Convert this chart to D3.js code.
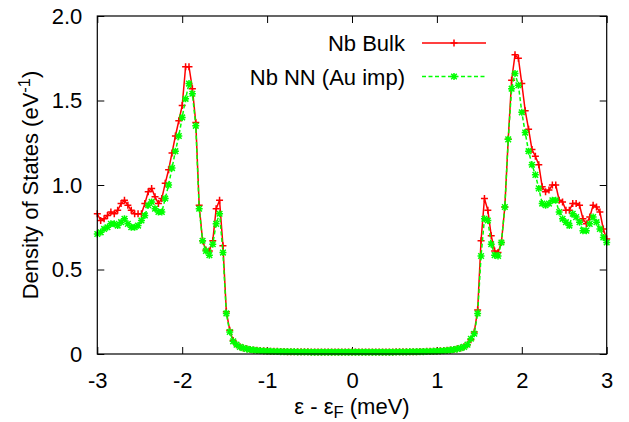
<!DOCTYPE html>
<html>
<head>
<meta charset="utf-8">
<script src="https://cdn.jsdelivr.net/npm/d3@7"></script>
<style>
  html, body { margin: 0; padding: 0; background: #fff; }
  svg { display: block; font-family: "Liberation Sans", Arial, sans-serif; }
</style>
</head>
<body>
<svg id="chart" width="629" height="422"></svg>
<script>
// ---- data ----
const energies = [
-3.00,-2.96,-2.92,-2.88,-2.84,-2.80,-2.76,-2.72,-2.68,-2.64,
-2.60,-2.56,-2.52,-2.48,-2.44,-2.40,-2.36,-2.32,-2.28,-2.24,
-2.20,-2.16,-2.12,-2.08,-2.04,-2.00,-1.96,-1.92,-1.88,-1.84,
-1.80,-1.76,-1.72,-1.68,-1.64,-1.60,-1.56,-1.52,-1.48,-1.44,
-1.40,-1.36,-1.32,-1.28,-1.24,-1.20,-1.16,-1.12,-1.08,-1.04,
-1.00,-0.96,-0.92,-0.88,-0.84,-0.80,-0.76,-0.72,-0.68,-0.64,
-0.60,-0.56,-0.52,-0.48,-0.44,-0.40,-0.36,-0.32,-0.28,-0.24,
-0.20,-0.16,-0.12,-0.08,-0.04,0.00,0.04,0.08,0.12,0.16,
0.20,0.24,0.28,0.32,0.36,0.40,0.44,0.48,0.52,0.56,
0.60,0.64,0.68,0.72,0.76,0.80,0.84,0.88,0.92,0.96,
1.00,1.04,1.08,1.12,1.16,1.20,1.24,1.28,1.32,1.36,
1.40,1.44,1.48,1.52,1.56,1.60,1.64,1.68,1.72,1.76,
1.80,1.84,1.88,1.92,1.96,2.00,2.04,2.08,2.12,2.16,
2.20,2.24,2.28,2.32,2.36,2.40,2.44,2.48,2.52,2.56,
2.60,2.64,2.68,2.72,2.76,2.80,2.84,2.88,2.92,2.96,
3.00];

const bulkDOS = [
0.83,0.79,0.80,0.82,0.84,0.83,0.85,0.89,0.91,0.88,
0.85,0.83,0.83,0.83,0.89,0.96,0.98,0.93,0.89,0.92,
1.01,1.09,1.19,1.29,1.38,1.47,1.70,1.70,1.57,1.37,
0.88,0.67,0.615,0.61,0.67,0.86,0.91,0.64,0.25,0.14,
0.08,0.055,0.043,0.036,0.031,0.027,0.024,0.022,0.020,0.019,
0.018,0.017,0.016,0.016,0.015,0.015,0.014,0.014,0.014,0.013,
0.013,0.013,0.013,0.012,0.012,0.012,0.012,0.012,0.012,0.012,
0.012,0.012,0.012,0.012,0.012,0.012,0.012,0.012,0.012,0.012,
0.012,0.012,0.012,0.012,0.012,0.012,0.012,0.012,0.013,0.013,
0.013,0.013,0.014,0.014,0.014,0.015,0.015,0.016,0.016,0.017,
0.018,0.019,0.020,0.022,0.024,0.027,0.031,0.036,0.043,0.055,
0.085,0.13,0.26,0.67,0.92,0.85,0.70,0.61,0.60,0.66,
0.87,1.27,1.62,1.77,1.75,1.60,1.44,1.33,1.21,1.17,
1.12,0.99,0.96,0.97,1.00,1.00,0.91,0.90,0.85,0.85,
0.89,0.89,0.88,0.80,0.77,0.81,0.88,0.87,0.84,0.74,
0.68];

const nnDOS = [
0.71,0.72,0.74,0.75,0.77,0.77,0.76,0.78,0.80,0.77,
0.75,0.75,0.76,0.79,0.82,0.88,0.90,0.86,0.84,0.84,
0.92,1.00,1.10,1.20,1.29,1.40,1.51,1.60,1.54,1.35,
0.86,0.67,0.61,0.585,0.65,0.77,0.83,0.60,0.24,0.13,
0.075,0.055,0.042,0.035,0.030,0.026,0.023,0.021,0.019,0.018,
0.017,0.016,0.015,0.015,0.014,0.014,0.013,0.013,0.013,0.012,
0.012,0.012,0.012,0.011,0.011,0.011,0.011,0.011,0.011,0.011,
0.011,0.011,0.011,0.011,0.011,0.011,0.011,0.011,0.011,0.011,
0.011,0.011,0.011,0.011,0.011,0.011,0.011,0.011,0.012,0.012,
0.012,0.012,0.013,0.013,0.013,0.014,0.014,0.015,0.015,0.016,
0.017,0.018,0.019,0.021,0.023,0.026,0.030,0.035,0.042,0.055,
0.09,0.12,0.24,0.58,0.80,0.79,0.65,0.585,0.58,0.66,
0.87,1.27,1.57,1.66,1.59,1.43,1.31,1.20,1.12,1.06,
0.98,0.89,0.88,0.89,0.91,0.91,0.84,0.80,0.78,0.76,
0.83,0.81,0.78,0.73,0.73,0.77,0.81,0.78,0.74,0.69,
0.66];

const seriesNames = ["Nb Bulk", "Nb NN (Au imp)"];
const xTicks = [-3, -2, -1, 0, 1, 2, 3];
const xTickLabels = ["-3", "-2", "-1", "0", "1", "2", "3"];
const yTicks = [0, 0.5, 1.0, 1.5, 2.0];
const yTickLabels = ["0", "0.5", "1.0", "1.5", "2.0"];

(function () {
const svg = d3.select("#chart");
const pL = 97.3, pR = 606.7, pT = 16, pB = 354;
const x = d3.scaleLinear().domain([-3, 3]).range([pL, pR]);
const y = d3.scaleLinear().domain([0, 2]).range([pB, pT]);
const FS = 22;

const series = [
  { name: seriesNames[0], values: bulkDOS, color: "#ff0000", dash: null,
    marker: "M-3.5,0H3.5M0,-3.5V3.5" },
  { name: seriesNames[1], values: nnDOS, color: "#00ff00", dash: "4,2.5",
    marker: "M-3.5,0H3.5M0,-3.5V3.5M-2.8,-2.8L2.8,2.8M-2.8,2.8L2.8,-2.8" }
];

function styleAxis(g) {
  g.select(".domain").remove();
  g.selectAll(".tick line").attr("stroke", "#000").attr("stroke-width", 1);
  g.selectAll(".tick text").attr("fill", "#000").attr("font-size", FS)
    .attr("font-family", "Liberation Sans, Arial, sans-serif");
}
svg.append("g").attr("transform", `translate(0,${pB})`)
  .call(d3.axisBottom(x).tickValues(xTicks).tickSize(-7).tickPadding(18)
        .tickFormat((d, i) => xTickLabels[i]))
  .call(styleAxis);
svg.append("g").attr("transform", `translate(0,${pT})`)
  .call(d3.axisTop(x).tickValues(xTicks).tickSize(-7).tickFormat(""))
  .call(styleAxis);
svg.append("g").attr("transform", `translate(${pL},0)`)
  .call(d3.axisLeft(y).tickValues(yTicks).tickSize(-7).tickPadding(15)
        .tickFormat((d, i) => yTickLabels[i]))
  .call(styleAxis);
svg.append("g").attr("transform", `translate(${pR},0)`)
  .call(d3.axisRight(y).tickValues(yTicks).tickSize(-7).tickFormat(""))
  .call(styleAxis);

series.forEach(s => {
  const pts = energies.map((e, i) => [e, s.values[i]]);
  const line = d3.line().x(d => x(d[0])).y(d => y(d[1]));
  svg.append("path").datum(pts)
    .attr("d", line).attr("fill", "none")
    .attr("stroke", s.color).attr("stroke-width", 1.5)
    .attr("stroke-dasharray", s.dash);
  svg.append("g").selectAll("path").data(pts).join("path")
    .attr("transform", d => `translate(${x(d[0])},${y(d[1])})`)
    .attr("d", s.marker).attr("fill", "none")
    .attr("stroke", s.color).attr("stroke-width", 1.5);
});

svg.append("rect").attr("x", pL).attr("y", pT)
  .attr("width", pR - pL).attr("height", pB - pT)
  .attr("fill", "none").attr("stroke", "#000").attr("stroke-width", 1.2);

const legendRows = [43, 76.5];
series.forEach((s, i) => {
  const ly = legendRows[i];
  svg.append("text").attr("x", 405).attr("y", ly + 8)
    .attr("text-anchor", "end").attr("font-size", FS).attr("fill", "#000")
    .text(s.name);
  svg.append("line").attr("x1", 422).attr("x2", 486).attr("y1", ly).attr("y2", ly)
    .attr("stroke", s.color).attr("stroke-width", 1.5).attr("stroke-dasharray", s.dash);
  svg.append("path").attr("transform", `translate(454,${ly})`)
    .attr("d", s.marker).attr("fill", "none").attr("stroke", s.color).attr("stroke-width", 1.5);
});

const xt = svg.append("text").attr("x", (pL + pR) / 2).attr("y", 413.5)
  .attr("text-anchor", "middle").attr("font-size", FS).attr("fill", "#000");
xt.append("tspan").text("ε - ε");
xt.append("tspan").attr("font-size", FS * 0.75).attr("dy", 4).text("F");
xt.append("tspan").attr("dy", -4).text(" (meV)");

const yt = svg.append("text")
  .attr("transform", `translate(38,${(pT + pB) / 2}) rotate(-90)`)
  .attr("text-anchor", "middle").attr("font-size", FS).attr("fill", "#000");
yt.append("tspan").text("Density of States (eV");
yt.append("tspan").attr("font-size", FS * 0.75).attr("dy", -8).text("-1");
yt.append("tspan").attr("dy", 8).text(")");
})();
</script>
</body>
</html>
